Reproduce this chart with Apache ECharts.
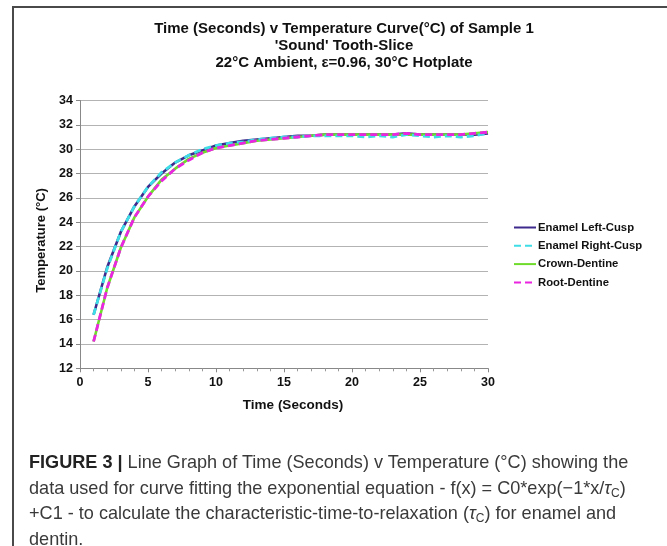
<!DOCTYPE html>
<html>
<head>
<meta charset="utf-8">
<script src="https://cdn.jsdelivr.net/npm/echarts@6/dist/echarts.min.js"></script>
<style>
  html, body { margin: 0; padding: 0; background: #fff; }
  #wrap { position: relative; width: 667px; height: 546px; overflow: hidden; }
  #frame { position: absolute; left: 12px; top: 6px; width: 700px; height: 600px; border-left: 2px solid #4a4a4a; border-top: 2px solid #4a4a4a; }
  #chart { position: absolute; left: 0; top: 0; width: 667px; height: 546px; }
  #caption { position: absolute; left: 29px; top: 450px; width: 636px; font-family: "Liberation Sans", Arial, sans-serif; font-size: 18.1px; line-height: 25.5px; color: #3a3a3a; white-space: nowrap; }
  #caption b { color: #222; }
  #caption sub { font-size: 12px; vertical-align: -3px; line-height: 0; }
</style>
</head>
<body>
<div id="wrap">
  <div id="chart"></div>
  <div id="frame"></div>
  <div id="caption"><b>FIGURE 3 |</b> Line Graph of Time (Seconds) v Temperature (°C) showing the<br>data used for curve fitting the exponential equation - f(x) = C0*exp(−1*x/<i>τ</i><sub>C</sub>)<br>+C1 - to calculate the characteristic-time-to-relaxation (<i>τ</i><sub>C</sub>) for enamel and<br>dentin.</div>
</div>
<script>
const time = [1,2,3,4,5,6,7,8,9,10,11,12,13,14,15,16,17,18,19,20,21,22,23,24,25,26,27,28,29,30];
const enamelLeft  = [16.4,20.3,23.2,25.3,26.9,28.0,28.9,29.5,29.9,30.3,30.5,30.7,30.8,30.9,31.0,31.1,31.1,31.2,31.2,31.2,31.2,31.2,31.2,31.3,31.2,31.2,31.2,31.2,31.2,31.3];
const enamelRight = [16.4,20.2,23.2,25.3,26.9,28.1,28.9,29.5,30.0,30.3,30.5,30.6,30.8,30.9,31.0,31.0,31.1,31.1,31.1,31.1,31.0,31.1,31.0,31.2,31.1,31.0,31.1,31.0,31.1,31.3];
const crownDentine = [14.2,18.6,21.9,24.4,26.1,27.5,28.4,29.2,29.7,30.1,30.3,30.5,30.7,30.8,30.9,31.0,31.1,31.2,31.2,31.2,31.2,31.2,31.2,31.2,31.2,31.2,31.2,31.2,31.3,31.4];
const rootDentine  = [14.2,18.6,21.9,24.4,26.1,27.4,28.4,29.1,29.7,30.1,30.3,30.5,30.7,30.8,30.9,31.0,31.1,31.2,31.2,31.2,31.2,31.2,31.2,31.3,31.2,31.2,31.2,31.2,31.3,31.4];
const seriesNames = ['Enamel Left-Cusp','Enamel Right-Cusp','Crown-Dentine','Root-Dentine'];
const titleLines = ["Time (Seconds) v Temperature Curve(\u00B0C) of Sample 1", "'Sound' Tooth-Slice", "22\u00B0C Ambient, \u03B5=0.96, 30\u00B0C Hotplate"];

const pair = (ys) => time.map((t, i) => [t, ys[i]]);
const font = '"Liberation Sans", Arial, sans-serif';

const chart = echarts.init(document.getElementById('chart'), null, { renderer: 'canvas' });
chart.setOption({
  animation: false,
  backgroundColor: '#fff',
  title: {
    text: titleLines.join('\n'),
    left: 339, top: 15, textAlign: 'center',
    textStyle: { fontFamily: font, fontSize: 15, fontWeight: 'bold', color: '#111', lineHeight: 17 }
  },
  grid: { left: 80, right: 179, top: 100.5, bottom: 177.7, containLabel: false },
  legend: {
    orient: 'vertical', left: 508, top: 215.5,
    itemWidth: 22, itemHeight: 14, itemGap: 4.3,
    itemStyle: { color: 'transparent', borderColor: 'transparent', borderWidth: 0, opacity: 0 },
    lineStyle: { width: 2 },
    textStyle: { fontFamily: font, fontSize: 11.3, fontWeight: 'bold', color: '#111', padding: [0,0,0,-3], height: 14, lineHeight: 14 },
    data: seriesNames
  },
  xAxis: {
    type: 'value', min: 0, max: 30, interval: 5,
    name: 'Time (Seconds)', nameLocation: 'middle', nameGap: 30,
    nameTextStyle: { fontFamily: font, fontSize: 13.5, fontWeight: 'bold', color: '#111', padding: [0,0,0,18] },
    axisLine: { show: true, onZero: false, lineStyle: { color: '#888', width: 1 } },
    axisTick: { show: true, length: 4, lineStyle: { color: '#888' } },
    minorTick: { show: true, splitNumber: 5, length: 3, lineStyle: { color: '#999' } },
    splitLine: { show: false },
    axisLabel: { fontFamily: font, fontSize: 12.5, fontWeight: 'bold', color: '#111', margin: 8 }
  },
  yAxis: {
    type: 'value', min: 12, max: 34, interval: 2,
    name: 'Temperature (\u00B0C)', nameLocation: 'middle', nameGap: 28,
    nameTextStyle: { fontFamily: font, fontSize: 13, fontWeight: 'bold', color: '#111', padding: [0,12,0,0] },
    axisLine: { show: true, lineStyle: { color: '#888', width: 1 } },
    axisTick: { show: true, length: 4, lineStyle: { color: '#888' } },
    splitLine: { show: true, lineStyle: { color: '#b3b3b3', width: 1 } },
    axisLabel: { fontFamily: font, fontSize: 12.5, fontWeight: 'bold', color: '#111', margin: 7 }
  },
  series: [
    { name: seriesNames[0], type: 'line', data: pair(enamelLeft), symbol: 'none', z: 2,
      lineStyle: { color: '#3d2a8c', width: 2.6 }, itemStyle: { color: '#3d2a8c' } },
    { name: seriesNames[1], type: 'line', data: pair(enamelRight), symbol: 'none', z: 3,
      lineStyle: { color: '#3fdde6', width: 2.8, type: [7, 4] }, itemStyle: { color: '#3fdde6' } },
    { name: seriesNames[2], type: 'line', data: pair(crownDentine), symbol: 'none', z: 2,
      lineStyle: { color: '#6edc2a', width: 2.6 }, itemStyle: { color: '#6edc2a' } },
    { name: seriesNames[3], type: 'line', data: pair(rootDentine), symbol: 'none', z: 3,
      lineStyle: { color: '#ea24e0', width: 2.8, type: [7, 4] }, itemStyle: { color: '#ea24e0' } }
  ]
});
</script>
</body>
</html>
